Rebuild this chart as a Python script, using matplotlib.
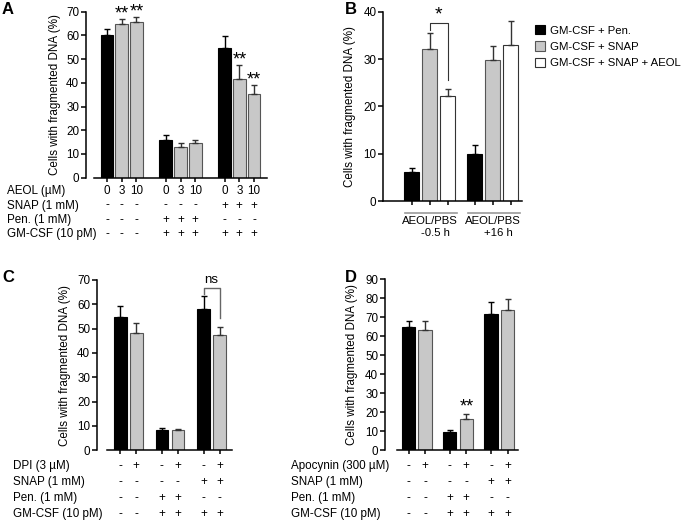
import matplotlib
matplotlib.use('Agg')
import matplotlib.pyplot as plt
from matplotlib.transforms import blended_transform_factory
import numpy as np

plt.rcParams['font.family'] = ['Liberation Sans', 'DejaVu Sans']
plt.rcParams['font.size'] = 8

W, H = 685, 521
fig = plt.figure(figsize=(W / 100, H / 100), dpi=100)

BLACK = '#000000'
GRAY = '#c8c8c8'
WHITE = '#ffffff'
EDGE = '#555555'

# ---------------- data ----------------
# Panel A
a_pos = [0, 1, 2, 4, 5, 6, 8, 9, 10]
a_vals = [60.3, 64.8, 65.8, 16.0, 12.9, 14.5, 54.7, 41.5, 35.4]
a_errs = [2.2, 2.3, 2.0, 1.8, 1.9, 1.4, 5.1, 6.0, 3.6]
a_kind = ['k', 'g', 'g', 'k', 'g', 'g', 'k', 'g', 'g']
a_star_idx = [1, 2, 7, 8]
a_row_names = ['AEOL (µM)', 'SNAP (1 mM)', 'Pen. (1 mM)', 'GM-CSF (10 pM)']
a_rows = [
    ['0', '3', '10', '0', '3', '10', '0', '3', '10'],
    ['-', '-', '-', '-', '-', '-', '+', '+', '+'],
    ['-', '-', '-', '+', '+', '+', '-', '-', '-'],
    ['-', '-', '-', '+', '+', '+', '+', '+', '+'],
]

# Panel B
b_groups = ['AEOL/PBS', 'AEOL/PBS']
b_times = ['-0.5 h', '+16 h']
b_series = ['GM-CSF + Pen.', 'GM-CSF + SNAP', 'GM-CSF + SNAP + AEOL']
b_vals = [[6.1, 10.0], [32.1, 29.8], [22.1, 33.0]]
b_errs = [[0.8, 1.8], [3.5, 3.0], [1.6, 5.1]]

# Panel C
c_pos = [0, 1, 2.6, 3.6, 5.2, 6.2]
c_vals = [54.7, 48.2, 8.2, 8.3, 57.9, 47.3]
c_errs = [4.8, 4.3, 1.1, 0.6, 5.4, 3.5]
c_kind = ['k', 'g', 'k', 'g', 'k', 'g']
c_row_names = ['DPI (3 µM)', 'SNAP (1 mM)', 'Pen. (1 mM)', 'GM-CSF (10 pM)']
c_rows = [
    ['-', '+', '-', '+', '-', '+'],
    ['-', '-', '-', '-', '+', '+'],
    ['-', '-', '+', '+', '-', '-'],
    ['-', '-', '+', '+', '+', '+'],
]

# Panel D
d_pos = [0, 1, 2.5, 3.5, 5, 6]
d_vals = [65.1, 63.3, 9.8, 16.5, 71.9, 73.7]
d_errs = [3.1, 4.8, 0.9, 2.6, 6.3, 5.8]
d_kind = ['k', 'g', 'k', 'g', 'k', 'g']
d_star_idx = [3]
d_row_names = ['Apocynin (300 µM)', 'SNAP (1 mM)', 'Pen. (1 mM)', 'GM-CSF (10 pM)']
d_rows = [
    ['-', '+', '-', '+', '-', '+'],
    ['-', '-', '-', '-', '+', '+'],
    ['-', '-', '+', '+', '-', '-'],
    ['-', '-', '+', '+', '+', '+'],
]

YLABEL = 'Cells with fragmented DNA (%)'
FS = 8.4


# ---------------- helpers ----------------
def add_axes_px(l, r, t, b):
    return fig.add_axes([l / W, 1 - b / H, (r - l) / W, (b - t) / H])


def style_axes(ax, ymax, ystep, outward_px, xlim, xticks):
    ax.set_ylim(0, ymax)
    ax.set_yticks(np.arange(0, ymax + 1, ystep))
    ax.set_xlim(*xlim)
    ax.set_xticks(xticks)
    ax.set_xticklabels([])
    for s in ['top', 'right']:
        ax.spines[s].set_visible(False)
    for s in ['left', 'bottom']:
        ax.spines[s].set_linewidth(1.1)
    ax.spines['left'].set_position(('outward', outward_px * 0.72))
    ax.tick_params(axis='y', length=3.5, width=1.1, pad=1.5, labelsize=FS)
    ax.tick_params(axis='x', length=3, width=1.1)
    ax.patch.set_alpha(0)


def draw_bars(ax, pos, vals, errs, kinds, width):
    pos = np.asarray(pos, float)
    vals = np.asarray(vals, float)
    errs = np.asarray(errs, float)
    kinds = np.asarray(kinds)
    for k, fc, ec, erc in [('k', BLACK, BLACK, BLACK), ('g', GRAY, EDGE, '#333333')]:
        m = kinds == k
        ax.bar(pos[m], vals[m], width, color=fc, edgecolor=ec, linewidth=0.8,
               yerr=[np.zeros(m.sum()), errs[m]],
               error_kw=dict(ecolor=erc, elinewidth=1.0, capsize=2.2, capthick=1.0),
               zorder=2)


def draw_table(ax, pos, row_names, rows, ys_px, label_x_px):
    tr = blended_transform_factory(ax.transData, fig.transFigure)
    for name, row, y in zip(row_names, rows, ys_px):
        fig.text(label_x_px / W, 1 - y / H, name, ha='left', va='center', fontsize=FS)
        for p, s in zip(pos, row):
            ax.text(p, 1 - y / H, s, transform=tr, ha='center', va='center',
                    fontsize=FS, clip_on=False)


def set_ylab(ax, x_px):
    ax.set_ylabel(YLABEL, fontsize=FS, va='center')
    bb = ax.get_position()
    ax.yaxis.set_label_coords(x_px / W, bb.y0 + bb.height / 2, transform=fig.transFigure)


# ---------------- Panel A ----------------
axA = add_axes_px(94, 267, 11.7, 177.7)
draw_bars(axA, a_pos, a_vals, a_errs, a_kind, 0.86)
style_axes(axA, 70, 10, 8, (-0.88, 10.88), a_pos)
set_ylab(axA, 55)
for i in a_star_idx:
    axA.text(a_pos[i], a_vals[i] + a_errs[i] + 2.0, '**', ha='center', va='center',
             fontsize=13, clip_on=False)
draw_table(axA, a_pos, a_row_names, a_rows, [190.7, 205.5, 220, 234.5], 7)

# ---------------- Panel B ----------------
axB = add_axes_px(383.3, 521.7, 11.7, 201)
b_group_x = [0, 3.5]
b_colors = [(BLACK, BLACK, BLACK), (GRAY, EDGE, '#333333'), (WHITE, '#333333', '#333333')]
handles = []
b_all_pos = []
for j, (name, vals, errs) in enumerate(zip(b_series, b_vals, b_errs)):
    fc, ec, erc = b_colors[j]
    xs = [g + j for g in b_group_x]
    b_all_pos += xs
    h = axB.bar(xs, vals, 0.83, color=fc, edgecolor=ec, linewidth=0.8,
                yerr=[[0] * len(vals), errs],
                error_kw=dict(ecolor=erc, elinewidth=1.0, capsize=2.2, capthick=1.0),
                label=name, zorder=2)
    handles.append(h)
style_axes(axB, 40, 10, 0, (-1.58, 6.11), sorted(b_all_pos))
set_ylab(axB, 350)
# significance bracket
gx, wx = b_group_x[0] + 1, b_group_x[0] + 2
g_top = b_vals[1][0] + b_errs[1][0]
w_top = b_vals[2][0] + b_errs[2][0]
ytop = g_top + 2.1
axB.plot([gx, gx, wx, wx], [g_top + 0.5, ytop, ytop, w_top + 1.9],
         color='#333333', lw=0.8, clip_on=False)
axB.text((gx + wx) / 2, ytop + 1.7, '*', ha='center', va='center', fontsize=14)
# group lines and labels
trB = blended_transform_factory(axB.transData, fig.transFigure)
for g, grp, tm in zip(b_group_x, b_groups, b_times):
    axB.plot([g - 0.37, g + 2.5], [1 - 213.3 / H] * 2, transform=trB, color='#999999',
             lw=1.2, clip_on=False)
    axB.text(g + 1, 1 - 220.5 / H, grp, transform=trB, ha='center', va='center', fontsize=8.2)
    axB.text(g + 1.3, 1 - 233.5 / H, tm, transform=trB, ha='center', va='center', fontsize=8.2)
axB.legend(handles=handles, loc='upper left', bbox_to_anchor=(535 / W, 1 - 25 / H),
           bbox_transform=fig.transFigure, frameon=False, fontsize=8.2,
           handlelength=0.9, handleheight=0.9, handletextpad=0.45,
           labelspacing=0.5, borderpad=0, borderaxespad=0)

# ---------------- Panel C ----------------
axC = add_axes_px(106.7, 231.7, 280, 450.3)
draw_bars(axC, c_pos, c_vals, c_errs, c_kind, 0.8)
style_axes(axC, 70, 10, 9.7, (-0.85, 6.96), c_pos)
set_ylab(axC, 65)
bx1, bx2 = c_pos[4], c_pos[5]
t1 = c_vals[4] + c_errs[4]
t2 = c_vals[5] + c_errs[5]
ctop = t1 + 3.5
axC.plot([bx1, bx1, bx2, bx2], [t1 + 1.1, ctop, ctop, t2 + 3.4],
         color='#666666', lw=1.0, clip_on=False)
axC.text((bx1 + bx2) / 2, ctop + 3.0, 'ns', ha='center', va='center', fontsize=9.5)
draw_table(axC, c_pos, c_row_names, c_rows, [466, 482, 498, 514], 13)

# ---------------- Panel D ----------------
axD = add_axes_px(396.7, 518.3, 279.3, 450.3)
draw_bars(axD, d_pos, d_vals, d_errs, d_kind, 0.8)
style_axes(axD, 90, 10, 11.7, (-0.72, 6.65), d_pos)
set_ylab(axD, 352)
for i in d_star_idx:
    axD.text(d_pos[i], d_vals[i] + d_errs[i] + 3.8, '**', ha='center', va='center',
             fontsize=13, clip_on=False)
draw_table(axD, d_pos, d_row_names, d_rows, [466, 482, 498, 514], 291)

# ---------------- panel letters ----------------
for lab, x, y in [('A', 2, 2), ('B', 345, 2), ('C', 2, 270), ('D', 345, 270)]:
    fig.text(x / W, 1 - y / H, lab, ha='left', va='top', fontsize=12, fontweight='bold')

fig.savefig('out.png', dpi=100)
